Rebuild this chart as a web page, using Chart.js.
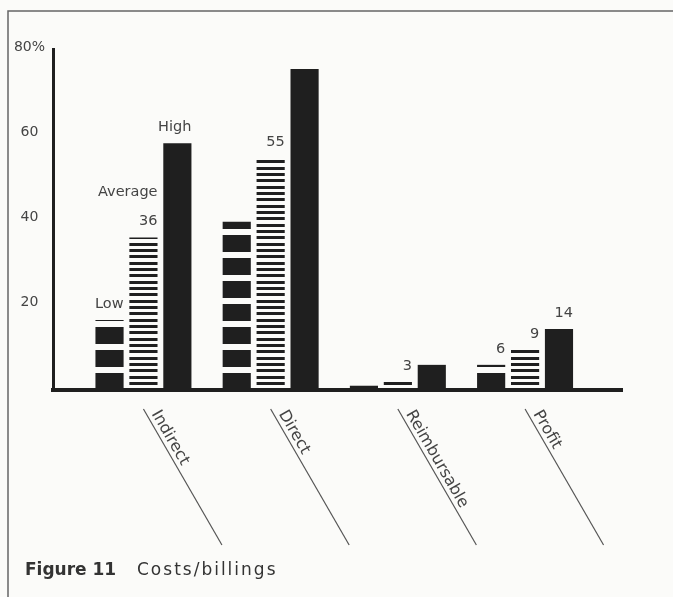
<!DOCTYPE html>
<html>
<head>
<meta charset="utf-8">
<title>Figure 11 Costs/billings</title>
<script src="https://cdn.jsdelivr.net/npm/chart.js@4/dist/chart.umd.min.js"></script>
<style>
  html, body { margin: 0; padding: 0; background: #fbfbf9; }
  #wrap { width: 673px; height: 597px; position: relative; }
</style>
</head>
<body>
<div id="wrap"><canvas id="graf"></canvas></div>
<script>
// categories and series
const categories = ["Indirect", "Direct", "Reimbursable", "Profit"];
const seriesNames = ["Low", "Average", "High"];

// values (% of billings)
const lowValues = [16.4, 39.5, 1.0, 5.9];
const averageValues = [35.8, 54.5, 1.9, 9.4];
const highValues = [57.9, 75.3, 5.9, 14.3];

// printed notes above the bars (one array of lines per bar)
const lowNotes = [["Low"], [], [], ["6"]];
const averageNotes = [["Average", "36"], ["55"], ["3"], ["9"]];
const highNotes = [["High"], [], [], ["14"]];

const yMax = 80;
const yStep = 20;
const caption = ["Figure 11", "Costs/billings"];

const INK = "#1f1f1f";
const TEXT = "#444";

/* ---- hatch tiles: low = blocks, average = thin stripes ---- */
function makeTile(h, ranges) {
  const c = document.createElement("canvas");
  c.width = 4;
  c.height = h;
  const g = c.getContext("2d");
  g.fillStyle = INK;
  ranges.forEach(([a, b]) => g.fillRect(0, a, 4, b - a));
  return c;
}
const lowTile = makeTile(23, [[6, 23]]);
const avgTile = makeTile(19, [[0, 1], [5, 8], [11, 14], [17, 19]]);

// pattern anchored on the zero line
function patternFor(chart, tile) {
  if (!chart.scales || !chart.scales.y) return INK;
  const base = chart.scales.y.getPixelForValue(0);
  const p = chart.ctx.createPattern(tile, "repeat");
  p.setTransform(new DOMMatrix([1, 0, 0, 1, 0, base]));
  return p;
}

const toPoints = vals => vals.map((v, i) => ({ x: i, y: v }));

/* ---- plugins ---- */
const paper = {
  id: "paper",
  beforeDraw(chart) {
    const ctx = chart.ctx;
    ctx.save();
    ctx.fillStyle = "#fbfbf9";
    ctx.fillRect(0, 0, chart.width, chart.height);
    // frame top + left
    ctx.strokeStyle = "#666";
    ctx.lineWidth = 1.5;
    ctx.beginPath();
    ctx.moveTo(8, chart.height);
    ctx.lineTo(8, 11);
    ctx.lineTo(chart.width, 11);
    ctx.stroke();
    ctx.restore();
  }
};

const notes = {
  id: "notes",
  afterDatasetsDraw(chart) {
    const ctx = chart.ctx;
    ctx.save();
    ctx.font = '14.5px "DejaVu Sans"';
    ctx.fillStyle = TEXT;
    ctx.textAlign = "right";
    ctx.textBaseline = "alphabetic";
    [lowNotes, averageNotes, highNotes].forEach((list, d) => {
      const meta = chart.getDatasetMeta(d);
      list.forEach((lines, i) => {
        const bar = meta.data[i];
        const right = bar.x + bar.width / 2;
        lines.forEach((t, k) => {
          ctx.fillText(t, right, bar.y - 12 - (lines.length - 1 - k) * 29);
        });
      });
    });
    ctx.restore();
  }
};

const slantLabels = {
  id: "slantLabels",
  afterDraw(chart) {
    const ctx = chart.ctx;
    const xs = chart.scales.x;
    const base = chart.scales.y.getPixelForValue(0);
    const ang = 60 * Math.PI / 180;
    const dx = Math.cos(ang), dy = Math.sin(ang);
    const ux = Math.sin(ang), uy = -Math.cos(ang);
    ctx.save();
    ctx.strokeStyle = "#555";
    ctx.lineWidth = 1.2;
    ctx.fillStyle = TEXT;
    ctx.font = '16px "DejaVu Sans"';
    ctx.textAlign = "left";
    ctx.textBaseline = "alphabetic";
    categories.forEach((c, i) => {
      const x0 = xs.getPixelForValue(i);
      const y0 = base + 19;
      ctx.beginPath();
      ctx.moveTo(x0, y0);
      ctx.lineTo(x0 + 157 * dx, y0 + 157 * dy);
      ctx.stroke();
      ctx.save();
      ctx.translate(x0 + 8 * dx + 4.5 * ux, y0 + 8 * dy + 4.5 * uy);
      ctx.rotate(ang);
      ctx.fillText(c, 0, 0);
      ctx.restore();
    });

    // caption
    ctx.fillStyle = "#333";
    ctx.font = 'bold 17px "DejaVu Sans"';
    ctx.fillText(caption[0], 25, 575);
    ctx.font = '17px "DejaVu Sans"';
    if ("letterSpacing" in ctx) ctx.letterSpacing = "2px";
    ctx.fillText(caption[1], 137, 575);
    ctx.restore();
  }
};

/* ---- chart ---- */
new Chart(document.getElementById("graf"), {
  type: "bar",
  plugins: [paper, notes, slantLabels],
  data: {
    datasets: [
      {
        label: seriesNames[0],
        data: toPoints(lowValues),
        backgroundColor: c => patternFor(c.chart, lowTile)
      },
      {
        label: seriesNames[1],
        data: toPoints(averageValues),
        backgroundColor: c => patternFor(c.chart, avgTile)
      },
      {
        label: seriesNames[2],
        data: toPoints(highValues),
        backgroundColor: INK
      }
    ]
  },
  options: {
    responsive: true,
    maintainAspectRatio: false,
    animation: false,
    categoryPercentage: 0.8,
    barPercentage: 0.83,
    borderWidth: 0,
    layout: { padding: { left: 0, top: 49, right: 51, bottom: 207 } },
    plugins: {
      legend: { display: false },
      tooltip: { enabled: false }
    },
    scales: {
      x: {
        type: "linear",
        min: -0.711,
        max: 3.762,
        offset: false,
        bounds: "data",
        grid: { display: false, drawTicks: false, offset: false },
        border: { display: true, width: 4, color: INK, z: 1 },
        ticks: { display: false },
        afterBuildTicks: s => { s.ticks = categories.map((c, i) => ({ value: i })); },
        afterFit: s => { s.height = 0; }
      },
      y: {
        min: 0,
        max: yMax,
        grid: { display: false, drawTicks: false },
        border: { display: true, width: 3, color: INK, z: 1 },
        ticks: {
          stepSize: yStep,
          color: TEXT,
          font: { family: "DejaVu Sans", size: 14 },
          padding: 8,
          crossAlign: "center",
          labelOffset: -2,
          callback: v => v === 0 ? "" : (v === yMax ? v + "%" : v)
        },
        afterFit: s => { s.width = 53; }
      }
    }
  }
});
</script>
</body>
</html>
